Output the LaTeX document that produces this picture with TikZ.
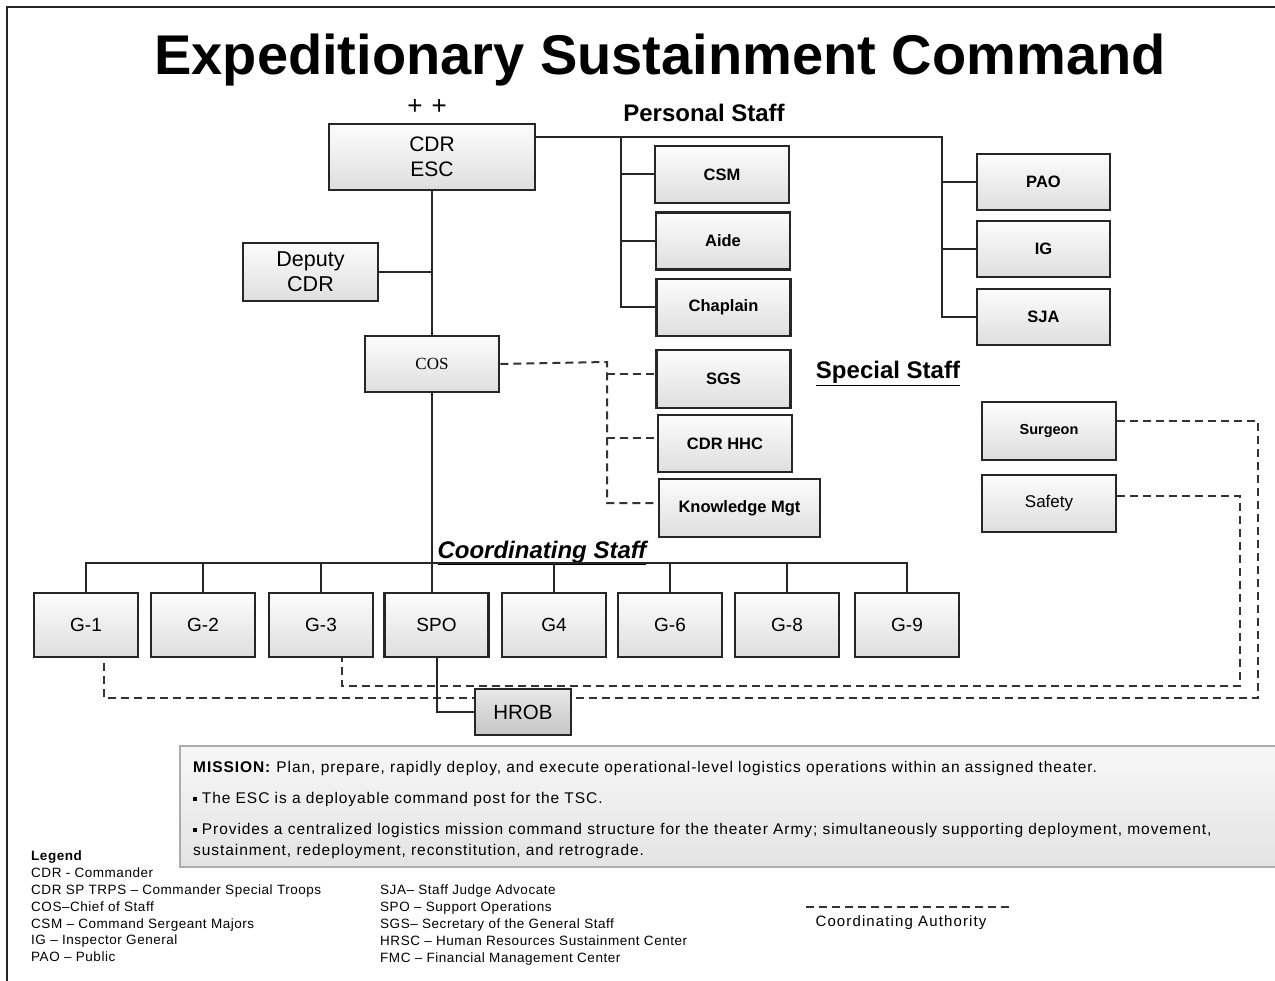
\documentclass[tikz,border=0pt]{standalone}
\usepackage{fontspec}
\setmainfont{Liberation Sans}
\newfontfamily\cosfont{Liberation Serif}
\newfontfamily\missionfont[LetterSpace=6]{Liberation Sans}
\newfontfamily\legendfont[LetterSpace=4]{Liberation Sans}
\newfontfamily\authorityfont[LetterSpace=7.5]{Liberation Sans}
\newcommand\sqbullet{\raisebox{2.5pt}{\rule{3.5pt}{3.5pt}}}
\begin{document}
\begin{tikzpicture}[x=1pt, y=-1pt,
   box/.style={draw=black!85, line width=2.6pt, top color=gray!2, middle color=gray!5,
      bottom color=gray!26, minimum width=134pt, minimum height=57pt, inner sep=0pt,
      align=center, font=\bfseries\fontsize{16.5}{20}\selectfont},
   gbox/.style={box, minimum width=104pt, minimum height=64pt,
      font=\fontsize{19}{22}\selectfont},
   conn/.style={draw=black!85, line width=2pt},
   coordline/.style={draw=black!80, line width=2pt, dash pattern=on 8pt off 5pt},
   heading/.style={anchor=base, font=\bfseries\fontsize{24}{28}\selectfont}]

\useasboundingbox (0,0) rectangle (1275,981);
\draw[line width=2.5pt, black!85] (7,981) -- (7,7) -- (1275,7);

\node[anchor=base, font=\bfseries\fontsize{56}{60}\selectfont] (title) at (660,75)
   {Expeditionary Sustainment Command};
\node[font=\fontsize{26}{26}\selectfont] (stars) at (427,107) {+\hspace{9pt}+};
\node[heading] (personal) at (704,122) {Personal Staff};
\node[heading] (special) at (888,379) {\underline{Special Staff}};
\node[heading, font=\bfseries\itshape\fontsize{24}{28}\selectfont] (coordinating) at (542,558)
   {\underline{Coordinating Staff}};

\node[box, minimum width=206pt, minimum height=66pt, font=\fontsize{21}{25}\selectfont]
   (cdr) at (432,157) {CDR\\ESC};
\node[box, minimum width=135pt, minimum height=58pt, font=\fontsize{21.5}{25}\selectfont]
   (deputy) at (310.5,272) {Deputy\\CDR};
\node[box, minimum height=56pt, font=\cosfont\fontsize{17}{20}\selectfont] (cos) at (432,364) {COS};

\node[box] (csm) at (722,174.5) {CSM};
\node[box] (aide) at (723,241) {Aide};
\node[box] (chaplain) at (723.5,307.5) {Chaplain};
\node[box, minimum height=58pt] (sgs) at (723.5,379) {SGS};
\node[box] (cdrhhc) at (725,443.5) {CDR HHC};
\node[box, minimum width=161pt, minimum height=58pt] (km) at (739.5,508) {Knowledge Mgt};

\node[box, minimum width=133pt, minimum height=56pt] (pao) at (1043.5,182) {PAO};
\node[box, minimum width=133pt, minimum height=56pt] (ig) at (1043.5,249) {IG};
\node[box, minimum width=133pt, minimum height=56pt] (sja) at (1043.5,317) {SJA};
\node[box, minimum height=58pt, font=\bfseries\fontsize{14.5}{18}\selectfont] (surgeon) at (1049,431) {Surgeon};
\node[box, font=\fontsize{17}{20}\selectfont] (safety) at (1049,503.5) {Safety};

\node[gbox] (g1) at (86,625) {G-1};
\node[gbox] (g2) at (203,625) {G-2};
\node[gbox] (g3) at (321,625) {G-3};
\node[gbox] (spo) at (436.5,625) {SPO};
\node[gbox] (g4) at (554,625) {G4};
\node[gbox] (g6) at (670,625) {G-6};
\node[gbox] (g8) at (787,625) {G-8};
\node[gbox] (g9) at (907,625) {G-9};

\coordinate (ps1) at (621,137);
\coordinate (ps2) at (942,137);
\coordinate (sp) at (607,362);
\coordinate (cbar) at (433,563);

\draw[conn] (cdr.south) -- (cos.north);
\draw[conn] (deputy.east) -- (deputy.east -| cdr.south);
\draw[conn] ([yshift=20pt]cdr.east) -- (ps2) |- (sja.west);
\draw[conn] (ps1) |- (chaplain.west);
\draw[conn] (ps1 |- csm.west) -- (csm.west);
\draw[conn] (ps1 |- aide.west) -- (aide.west);
\draw[conn] (ps2 |- pao.west) -- (pao.west);
\draw[conn] (ps2 |- ig.west) -- (ig.west);

\draw[coordline] (cos.east) -- (sp) |- ([yshift=5pt]km.west);
\draw[coordline] ([yshift=5pt]sp |- sgs.west) -- ([yshift=5pt]sgs.west);
\draw[coordline] ([yshift=5pt]sp |- cdrhhc.west) -- ([yshift=5pt]cdrhhc.west);

\draw[conn] (cos.south) -- (cos.south |- spo.north);
\draw[conn] (g1.north) |- (cbar) -| (g9.north);
\foreach \g in {g2,g3,g4,g6,g8}
   \draw[conn] (\g.north) -- (\g.north |- cbar);

\draw[coordline] ([yshift=10pt]surgeon.east) -| (1258,698) -| ([xshift=18pt]g1.south);

\node[box, minimum width=96pt, minimum height=46pt, top color=gray!18, middle color=gray!22,
   bottom color=gray!45, font=\fontsize{20.5}{24}\selectfont] (hrob) at (523,712) {HROB};
\draw[conn] (spo.south) |- (hrob.west);

\draw[coordline] ([yshift=8pt]safety.east) -| (1240,686) -| ([xshift=21pt]g3.south);

\node[draw=gray!65, line width=2pt, top color=gray!6, bottom color=gray!22, anchor=north west,
   minimum width=1110pt, minimum height=121pt] (mission) at (179,745) {};
\node[anchor=north west, align=left, inner sep=0pt, font=\missionfont\fontsize{15.5}{21}\selectfont]
   (missiontxt) at (193,761)
   {\textbf{MISSION:} Plan, prepare, rapidly deploy, and execute operational-level logistics operations within an assigned theater.\\[10pt]
    \sqbullet\ The ESC is a deployable command post for the TSC.\\[10pt]
    \sqbullet\ Provides a centralized logistics mission command structure for the theater Army; simultaneously supporting deployment, movement,\\
    sustainment, redeployment, reconstitution, and retrograde.};

\node[anchor=north west, align=left, inner sep=0pt, font=\legendfont\fontsize{13.5}{16.8}\selectfont]
   (legend) at (31,851)
   {\textbf{Legend}\\
    CDR - Commander\\
    CDR SP TRPS – Commander Special Troops\\
    COS–Chief of Staff\\
    CSM – Command Sergeant Majors\\
    IG – Inspector General\\
    PAO – Public};
\node[anchor=north west, align=left, inner sep=0pt, font=\legendfont\fontsize{13.5}{16.8}\selectfont]
   (legend2) at (380,885)
   {SJA– Staff Judge Advocate\\
    SPO – Support Operations\\
    SGS– Secretary of the General Staff\\
    HRSC – Human Resources Sustainment Center\\
    FMC – Financial Management Center};

\coordinate (ca1) at (806,907);
\coordinate (ca2) at (1010,907);
\draw[coordline] (ca1) -- (ca2);
\node[anchor=base, font=\authorityfont\fontsize{15}{18}\selectfont] (catext) at (901,926) {Coordinating Authority};

\end{tikzpicture}
\end{document}
